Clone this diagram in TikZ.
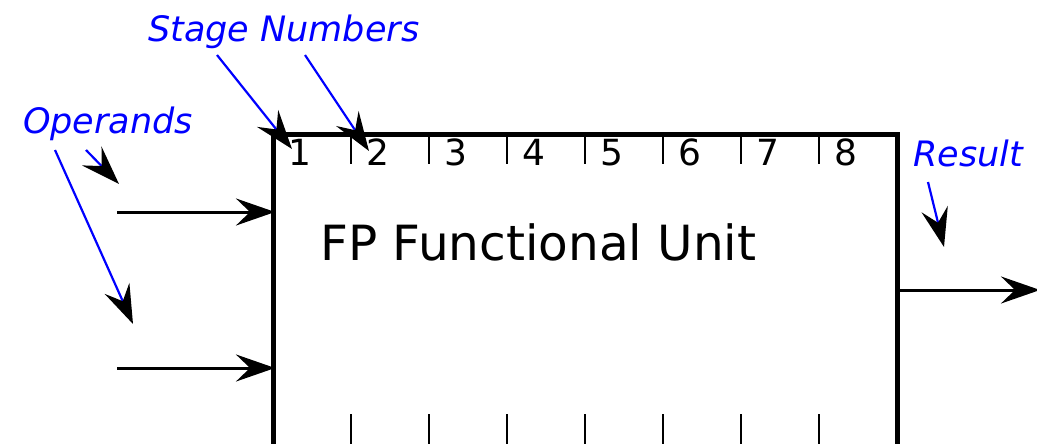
\documentclass[tikz,border=0pt]{standalone}
\usepackage{fontspec}
\setmainfont{DejaVu Sans}
\usetikzlibrary{arrows.meta}
\begin{document}
\begin{tikzpicture}[x=1pt,y=-1pt,
  bigtip/.style={-{Stealth[length=39pt,width=27pt,inset=14pt,color=black]}},
  flow/.style={line width=3pt,bigtip},
  note/.style={draw=blue,line width=2.2pt,bigtip},
  lbl/.style={text=blue,font=\fontsize{35}{40}\selectfont\itshape,inner sep=0pt,anchor=base west},
  digit/.style={font=\fontsize{36}{40}\selectfont,inner sep=0pt,anchor=base},
  tick/.style={line width=2.4pt}]
\useasboundingbox (0,0) rectangle (1037,444);
% box
\coordinate (bl) at (273,444);
\coordinate (tl) at (273,134);
\coordinate (tr) at (897,134);
\coordinate (br) at (897,444);
\draw[line width=5pt] (bl) -- (tl) -- (tr) -- (br);
% ticks and digits
\foreach \i in {1,...,7}{
  \draw[tick] (273+78*\i,134) -- (273+78*\i,164);
  \draw[tick] (273+78*\i,414) -- (273+78*\i,444);
}
\foreach \i in {1,...,8}{
  \node[digit] (d\i) at (300+78*\i-78,165) {\i};
}
\node[font=\fontsize{48.5}{52}\selectfont,inner sep=0pt,anchor=base west] (title) at (320,260) {FP Functional Unit};
% inputs
\coordinate (in1) at (117,212);
\coordinate (in2) at (117,368);
\coordinate (e1) at (275,212);
\coordinate (e2) at (275,368);
\draw[flow] (in1) -- (e1);
\draw[flow] (in2) -- (e2);
% output
\coordinate (o1) at (897,290);
\coordinate (o2) at (1040,290);
\draw[flow] (o1) -- (o2);
% labels
\node[lbl] (ops) at (23,133) {Operands};
\node[lbl] (stage) at (148,42) {Stage Numbers};
\node[lbl] (res) at (913,166) {Result};
% annotation arrows
\coordinate (a1s) at (86,150);  \coordinate (a1e) at (119,184);
\coordinate (a2s) at (55,150);  \coordinate (a2e) at (133,324);
\coordinate (s1s) at (217,55);  \coordinate (s1e) at (292,149);
\coordinate (s2s) at (305,55);  \coordinate (s2e) at (369,151);
\coordinate (r1s) at (928,182); \coordinate (r1e) at (944,247);
\draw[note] (a1s) -- (a1e);
\draw[note] (a2s) -- (a2e);
\draw[note] (s1s) -- (s1e);
\draw[note] (s2s) -- (s2e);
\draw[note] (r1s) -- (r1e);
\end{tikzpicture}
\end{document}
